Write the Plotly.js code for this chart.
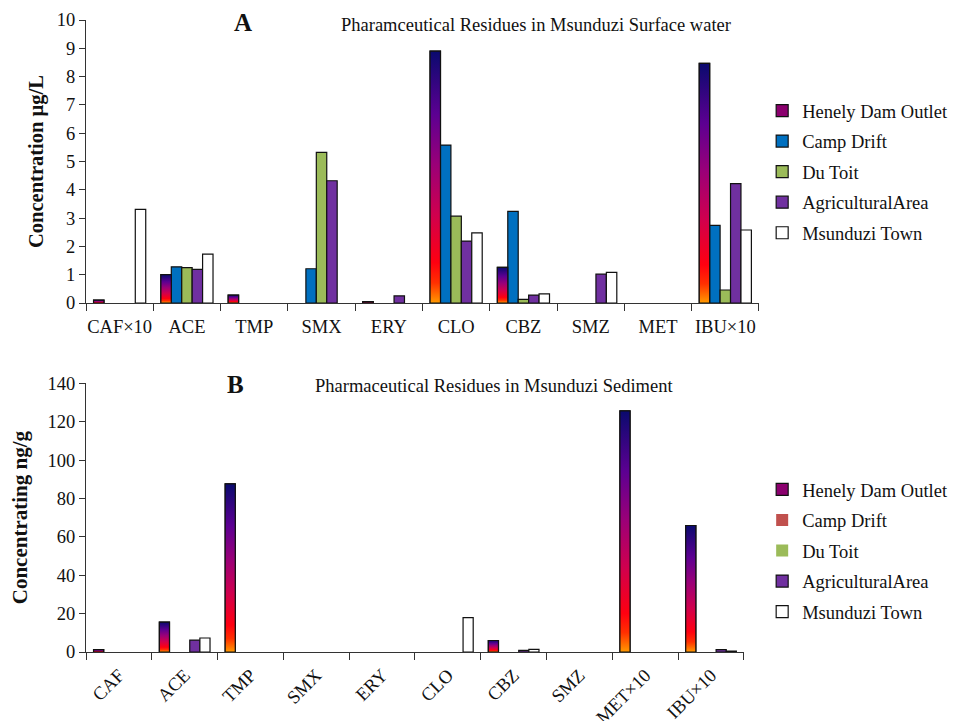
<!DOCTYPE html>
<html>
<head>
<meta charset="utf-8">
<script src="https://cdn.plot.ly/plotly-3.0.1.min.js"></script>
<style>html,body{margin:0;padding:0;background:#fff;}#chart{width:954px;height:721px;}</style>
</head>
<body>
<div id="chart"></div>
<script>
// ---- Data ----
var seriesNames = ['Henely Dam Outlet', 'Camp Drift', 'Du Toit', 'AgriculturalArea', 'Msunduzi Town'];

var categoriesWater = ['CAF×10', 'ACE', 'TMP', 'SMX', 'ERY', 'CLO', 'CBZ', 'SMZ', 'MET', 'IBU×10'];
var waterHenely = [0.10, 1.00, 0.28, 0, 0.05, 8.90, 1.26, 0, 0, 8.47];
var waterCamp   = [0, 1.28, 0, 1.21, 0, 5.58, 3.24, 0, 0, 2.74];
var waterDuToit = [0, 1.25, 0, 5.32, 0, 3.07, 0.13, 0, 0, 0.46];
var waterAgri   = [0, 1.19, 0, 4.32, 0.25, 2.19, 0.28, 1.02, 0, 4.22];
var waterTown   = [3.31, 1.73, 0, 0, 0, 2.48, 0.32, 1.08, 0, 2.58];

var categoriesSed = ['CAF', 'ACE', 'TMP', 'SMX', 'ERY', 'CLO', 'CBZ', 'SMZ', 'MET×10', 'IBU×10'];
var sedHenely = [1.2, 15.6, 87.6, 0, 0, 0, 6.0, 0, 125.6, 65.9];
var sedCamp   = [0, 0, 0, 0, 0, 0, 0, 0, 0, 0];
var sedDuToit = [0, 0, 0, 0, 0, 0, 0, 0, 0, 0];
var sedAgri   = [0, 6.2, 0, 0, 0, 0, 0.8, 0, 0, 1.2];
var sedTown   = [0, 7.3, 0, 0, 0, 17.9, 1.4, 0, 0, 0.5];

// ---- Styles ----
var FONT = 'Liberation Serif, Times New Roman, serif';
var henelyScale = [[0, '#ff9a00'], [0.08, '#ff3000'], [0.16, '#ff0010'], [0.35, '#d0004e'], [0.55, '#9a0078'], [0.75, '#5c0092'], [1, '#0a0a6e']];
var waterColors = ['#8b006e', '#0070c0', '#9bbb59', '#7030a0', '#ffffff'];
var sedColors   = ['#8b006e', '#c0504d', '#9bbb59', '#7030a0', '#ffffff'];
var sedLineW    = [1.2, 0, 0, 1.2, 1.2];

var traces = [];

function addPanel(cats, seriesVals, colors, lineWs, W, xa, ya, legendName, grp) {
  var idx = cats.map(function (_, i) { return i; });
  seriesVals.forEach(function (vals, k) {
    traces.push({
      type: 'bar', name: seriesNames[k], x: idx,
      y: vals.map(function (v) { return v > 0 ? v : null; }),
      text: cats, width: W, offset: -2.5 * W + k * W,
      marker: { color: colors[k], line: { color: '#111', width: lineWs[k] } },
      xaxis: xa, yaxis: ya, legend: legendName, legendgroup: grp + k,
      textposition: 'none',
      hovertemplate: '%{text}: %{y}<extra>' + seriesNames[k] + '</extra>'
    });
  });
  // gradient overlay for the first series (Henely Dam Outlet)
  seriesVals[0].forEach(function (v, i) {
    if (!(v > 0)) return;
    var x0 = i - 2.5 * W, x1 = x0 + W;
    traces.push({
      type: 'scatter', mode: 'lines', x: [x0, x1, x1, x0, x0], y: [0, 0, v, v, 0],
      fill: 'toself', fillgradient: { type: 'vertical', colorscale: henelyScale },
      line: { color: '#111', width: 1.2 }, xaxis: xa, yaxis: ya,
      showlegend: false, hoverinfo: 'skip'
    });
  });
}

addPanel(categoriesWater, [waterHenely, waterCamp, waterDuToit, waterAgri, waterTown],
  waterColors, [1.2, 1.2, 1.2, 1.2, 1.2], 0.155, 'x', 'y', 'legend', 'w');
addPanel(categoriesSed, [sedHenely, sedCamp, sedDuToit, sedAgri, sedTown],
  sedColors, sedLineW, 0.154, 'x2', 'y2', 'legend2', 's');

function xAxis(cats, domain, anchor, angle, tl) {
  return {
    domain: domain, anchor: anchor, range: [-0.5, 9.5], fixedrange: true,
    tickmode: 'array', tickvals: cats.map(function (_, i) { return i; }), ticktext: cats,
    ticks: 'outside', ticklen: tl, tickcolor: 'rgba(0,0,0,0)', tickangle: angle,
    minor: { tickmode: 'linear', tick0: -0.5, dtick: 1, ticks: 'outside', ticklen: 7, tickcolor: '#333', tickwidth: 1.3 },
    showline: true, linecolor: '#333', linewidth: 1.3, showgrid: false, zeroline: false,
    tickfont: { family: FONT, size: 18.5, color: '#111' }
  };
}
function yAxis(title, domain, anchor, range, dtick, tsize, standoff) {
  return {
    domain: domain, anchor: anchor, range: range, dtick: dtick, fixedrange: true,
    ticks: 'outside', ticklen: 6, tickcolor: '#333', tickwidth: 1.3,
    showline: true, linecolor: '#333', linewidth: 1.3, showgrid: false, zeroline: false,
    tickfont: { family: FONT, size: 18.5, color: '#111' },
    title: { text: '<b>' + title + '</b>', font: { family: FONT, size: tsize, color: '#111' }, standoff: standoff }
  };
}

var layout = {
  width: 954, height: 721,
  margin: { l: 86, r: 0, t: 20, b: 69 },
  paper_bgcolor: '#fff', plot_bgcolor: '#fff',
  barmode: 'group', showlegend: true,
  font: { family: FONT, color: '#111' },
  xaxis: xAxis(categoriesWater, [0, 0.7753], 'y', 0, 7),
  yaxis: yAxis('Concentration µg/L', [0.5522, 1], 'x', [0, 10], 1, 20.5, 7),
  xaxis2: xAxis(categoriesSed, [0, 0.758], 'y2', -45, 4),
  yaxis2: yAxis('Concentrating ng/g', [0, 0.4252], 'x2', [0, 140], 20, 21, 14),
  legend: {
    x: 0.779, y: 0.886, xanchor: 'left', yanchor: 'top',
    font: { family: FONT, size: 18.5, color: '#111' }, tracegroupgap: 3.5, bgcolor: 'rgba(0,0,0,0)'
  },
  legend2: {
    x: 0.779, y: 0.2865, xanchor: 'left', yanchor: 'top',
    font: { family: FONT, size: 18.5, color: '#111' }, tracegroupgap: 3.5, bgcolor: 'rgba(0,0,0,0)'
  },
  annotations: [
    { text: '<b>A</b>', xref: 'paper', yref: 'paper', x: 0.1809, y: 0.9968, xanchor: 'center', yanchor: 'middle', showarrow: false, font: { family: FONT, size: 25, color: '#111' } },
    { text: 'Pharamceutical Residues in Msunduzi Surface water', xref: 'paper', yref: 'paper', x: 0.5184, y: 0.992, xanchor: 'center', yanchor: 'middle', showarrow: false, font: { family: FONT, size: 18.5, color: '#111' } },
    { text: '<b>B</b>', xref: 'paper', yref: 'paper', x: 0.1717, y: 0.424, xanchor: 'center', yanchor: 'middle', showarrow: false, font: { family: FONT, size: 25, color: '#111' } },
    { text: 'Pharmaceutical Residues in Msunduzi Sediment', xref: 'paper', yref: 'paper', x: 0.4695, y: 0.4209, xanchor: 'center', yanchor: 'middle', showarrow: false, font: { family: FONT, size: 18.5, color: '#111' } }
  ]
};

Plotly.newPlot('chart', traces, layout, { displayModeBar: false, responsive: false });
</script>
</body>
</html>
